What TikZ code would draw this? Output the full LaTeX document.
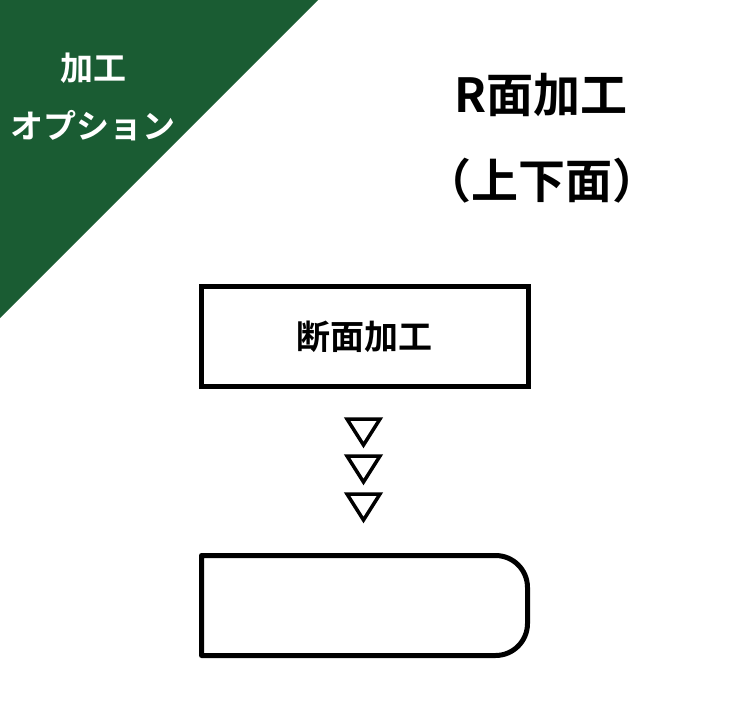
\documentclass[tikz,border=0pt]{standalone}
\usepackage{fontspec}
\newfontfamily\jpb{Noto Sans CJK JP Bold}
\definecolor{dgreen}{HTML}{1A5C33}
\begin{document}
\begin{tikzpicture}[x=1pt,y=-1pt,
  boxline/.style={draw=black,line width=5pt},
  tri/.style={draw=black,line width=3.5pt,line join=miter},
  wtxt/.style={text=white,font=\jpb\fontsize{33}{34}\selectfont,inner sep=0pt},
  ttl/.style={text=black,font=\jpb\fontsize{47}{48}\selectfont,inner sep=0pt}]
\useasboundingbox[fill=white] (0,0) rectangle (728,728);
\fill[dgreen] (0,0) -- (318,0) -- (0,318) -- cycle;
\node[wtxt] (t1) at (93,68) {加工};
\node[wtxt] (t2) at (93,126) {オプション};
\node[ttl] (h1) at (541,95) {R面加工};
\node[ttl] (h2) at (542,181) {（上下面）};
\node[boxline,minimum width=326.5pt,minimum height=100pt,inner sep=0pt,
  font=\jpb\fontsize{34}{36}\selectfont] (b1) at (364.75,336.5) {断面加工};
\foreach \y/\n in {419/a,456/b,494/c}{
  \draw[tri] (347,\y) -- (380,\y) -- (363.5,\y+26) -- cycle;
}
\draw[boxline,line join=round] (201.5,555.5) -- (495.5,555.5)
  arc[start angle=-90,end angle=0,radius=32] -- (527.5,623.5)
  arc[start angle=0,end angle=90,radius=32] -- (201.5,655.5) -- cycle;
\end{tikzpicture}
\end{document}
